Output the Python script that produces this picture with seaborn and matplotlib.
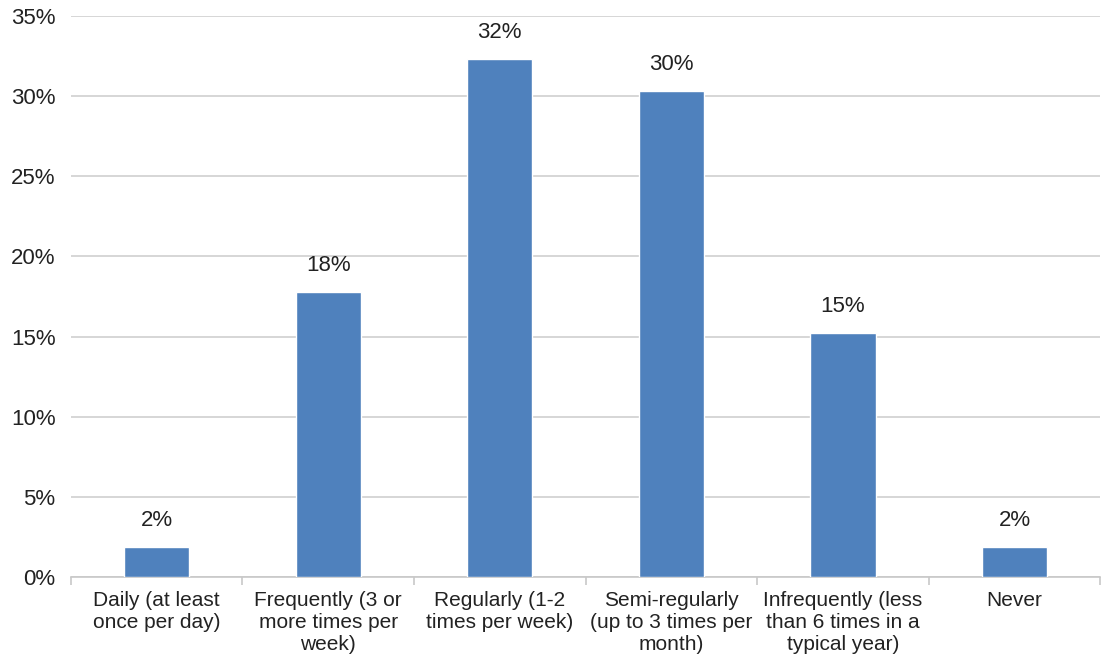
import matplotlib
matplotlib.use("Agg")
import matplotlib.pyplot as plt
import seaborn as sns
import pandas as pd
import numpy as np
from matplotlib.ticker import FuncFormatter, FixedLocator

categories = [
    "Daily (at least\nonce per day)",
    "Frequently (3 or\nmore times per\nweek)",
    "Regularly (1-2\ntimes per week)",
    "Semi-regularly\n(up to 3 times per\nmonth)",
    "Infrequently (less\nthan 6 times in a\ntypical year)",
    "Never",
]
values = [1.9, 17.8, 32.3, 30.3, 15.2, 1.9]
labels = ["2%", "18%", "32%", "30%", "15%", "2%"]
yticks = [0, 5, 10, 15, 20, 25, 30, 35]

sns.set_theme(style="white")
plt.rcParams["font.family"] = ["Liberation Sans", "DejaVu Sans"]

df = pd.DataFrame({"cat": categories, "val": values})

fig = plt.figure(figsize=(11.08, 6.62), dpi=100)
ax = fig.add_axes([0.064, 0.128, 0.929, 0.848])

sns.barplot(data=df, x="cat", y="val", color="#4F81BD", saturation=1,
            width=0.38, ax=ax, zorder=3)

for i, (v, lab) in enumerate(zip(values, labels)):
    ax.text(i, v + 1.0, lab, ha="center", va="bottom", fontsize=16, color="#222222")

ax.set_ylim(0, 35)
ax.set_xlim(-0.5, len(categories) - 0.5)
ax.set_yticks(yticks)
ax.yaxis.set_major_formatter(FuncFormatter(lambda v, p: f"{int(v)}%"))
ax.grid(axis="y", color="#D0D0D0", linewidth=1.2, zorder=0)
ax.set_axisbelow(True)
for s in ["left", "right", "top"]:
    ax.spines[s].set_visible(False)
ax.spines["bottom"].set_color("#C8C8C8")
ax.spines["bottom"].set_linewidth(1.2)
ax.set_xlabel("")
ax.set_ylabel("")
ax.tick_params(axis="y", labelsize=16, colors="#222222", length=0, pad=11)
ax.tick_params(axis="x", which="major", labelsize=15, colors="#222222", length=0, pad=10)
ax.xaxis.set_minor_locator(FixedLocator(np.arange(-0.5, len(categories), 1.0)))
ax.tick_params(axis="x", which="minor", bottom=True, length=6, color="#C8C8C8",
               width=1.2, direction="out")
for t in ax.get_xticklabels():
    t.set_linespacing(1.2)

fig.savefig("out.png", dpi=100)
